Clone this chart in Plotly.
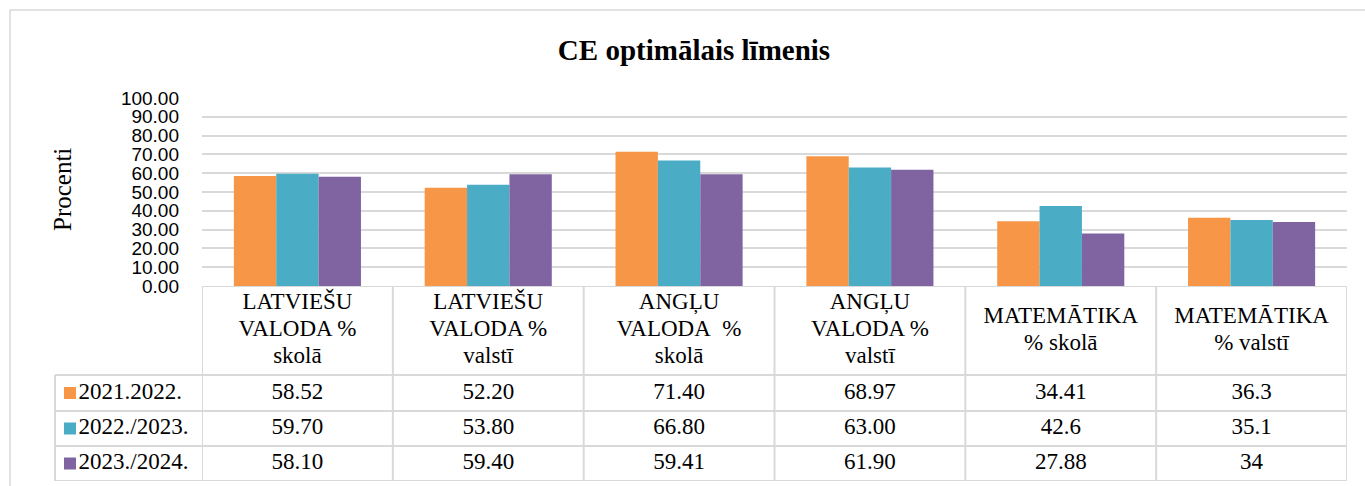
import plotly.graph_objects as go

# ---------------- data ----------------
categories = [
    "LATVIEŠU<br>VALODA %<br>skolā",
    "LATVIEŠU<br>VALODA %<br>valstī",
    "ANGĻU<br>VALODA\u00a0 %<br>skolā",
    "ANGĻU<br>VALODA %<br>valstī",
    "MATEMĀTIKA<br>% skolā",
    "MATEMĀTIKA<br>% valstī",
]
series_names = ["2021.2022.", "2022./2023.", "2023./2024."]
values_2021_2022 = [58.52, 52.20, 71.40, 68.97, 34.41, 36.3]
values_2022_2023 = [59.70, 53.80, 66.80, 63.00, 42.6, 35.1]
values_2023_2024 = [58.10, 59.40, 59.41, 61.90, 27.88, 34]
column_decimals = [2, 2, 2, 2, None, None]   # None = general format
y_tick_values = list(range(0, 101, 10))
title_text = "CE optimālais līmenis"
y_title = "Procenti"

# ---------------- styles / layout ----------------
W, H = 1365, 486
colors = ["#F79646", "#4BACC6", "#8064A2"]
GRID = "#D9D9D9"
SERIF = "Liberation Serif"
SANS = "Liberation Sans"
TABLE_FONT = 23
LINE_STEP = 27


def px_x(q):
    return q / W


def px_y(p):
    return (H - p) / H


plot_left, plot_right = 202, 1347
plot_top, plot_bottom = 98, 286
row_edges = [286, 375, 411, 446, 481]      # table rows in pixel units (y2 axis)
legend_left = 55

all_series = [values_2021_2022, values_2022_2023, values_2023_2024]

fig = go.Figure()

# bars
for name, vals, col in zip(series_names, all_series, colors):
    fig.add_trace(go.Bar(
        x=categories, y=vals, name=name,
        marker=dict(color=col, line=dict(width=0)),
        xaxis="x", yaxis="y", showlegend=False, hoverinfo="y+name",
    ))


def fmt(v, d):
    return f"{v:.{d}f}" if d is not None else f"{v:g}"


# table header (category labels), one line at a time for tight line spacing
header_c = (row_edges[0] + row_edges[1]) / 2
hx, hy, ht = [], [], []
for cat in categories:
    lines = cat.split("<br>")
    n = len(lines)
    for j, ln in enumerate(lines):
        hx.append(cat)
        hy.append(header_c + (j - (n - 1) / 2) * LINE_STEP)
        ht.append(ln)
fig.add_trace(go.Scatter(
    x=hx, y=hy, mode="text", text=ht, textposition="middle center",
    textfont=dict(family=SERIF, size=TABLE_FONT, color="black"),
    xaxis="x", yaxis="y2", showlegend=False, hoverinfo="skip", cliponaxis=False,
))

# table values
for i, vals in enumerate(all_series):
    yc = (row_edges[i + 1] + row_edges[i + 2]) / 2
    fig.add_trace(go.Scatter(
        x=categories, y=[yc] * len(categories), mode="text",
        text=[fmt(v, d) for v, d in zip(vals, column_decimals)],
        textposition="middle center",
        textfont=dict(family=SERIF, size=TABLE_FONT, color="black"),
        xaxis="x", yaxis="y2", showlegend=False, hoverinfo="skip", cliponaxis=False,
    ))
    # legend key + name in the left column
    fig.add_trace(go.Scatter(
        x=[70], y=[yc], mode="markers+text",
        marker=dict(symbol="square", size=12, color=colors[i], line=dict(width=0)),
        text=[series_names[i]], textposition="middle right",
        textfont=dict(family=SERIF, size=TABLE_FONT, color="black"),
        xaxis="x2", yaxis="y2", showlegend=False, hoverinfo="skip", cliponaxis=False,
    ))

shapes = []
# outer chart border
shapes.append(dict(type="rect", xref="paper", yref="paper",
                   x0=px_x(10), x1=px_x(1380), y0=px_y(500), y1=px_y(10),
                   line=dict(color=GRID, width=1.5), fillcolor="rgba(0,0,0,0)", layer="below"))
# table horizontal lines
for k, e in enumerate(row_edges):
    x0 = px_x(plot_left) if k == 0 else px_x(legend_left)
    shapes.append(dict(type="line", xref="paper", yref="y2",
                       x0=x0, x1=px_x(plot_right), y0=e, y1=e,
                       line=dict(color=GRID, width=2)))
# table vertical lines at category boundaries
for k in range(len(categories) + 1):
    shapes.append(dict(type="line", xref="x", yref="y2",
                       x0=k - 0.5, x1=k - 0.5, y0=row_edges[0], y1=row_edges[-1],
                       line=dict(color=GRID, width=2)))
# left edge of legend column
shapes.append(dict(type="line", xref="paper", yref="y2",
                   x0=px_x(legend_left), x1=px_x(legend_left),
                   y0=row_edges[1], y1=row_edges[-1],
                   line=dict(color=GRID, width=2)))

fig.update_layout(
    width=W, height=H, autosize=False,
    margin=dict(l=0, r=0, t=0, b=0, pad=0, autoexpand=False),
    paper_bgcolor="white", plot_bgcolor="white",
    barmode="group", bargap=0.334, bargroupgap=0,
    title=dict(text=f"<b>{title_text}</b>", x=px_x(694), y=px_y(50),
               xanchor="center", yanchor="middle", automargin=False,
               font=dict(family=SERIF, size=29, color="black")),
    xaxis=dict(domain=[px_x(plot_left), px_x(plot_right)], range=[-0.5, len(categories) - 0.5],
               showticklabels=False, showgrid=False, zeroline=False, showline=False,
               anchor="y", fixedrange=True, automargin=False),
    yaxis=dict(domain=[px_y(plot_bottom), px_y(plot_top)], range=[0, 100],
               tickvals=y_tick_values, tickformat=".2f",
               tickfont=dict(family=SANS, size=19, color="black"),
               ticklabelstandoff=22, automargin=False,
               showgrid=True, gridcolor=GRID, gridwidth=1.5,
               zeroline=False, showline=False, ticks="", anchor="x", fixedrange=True),
    yaxis2=dict(domain=[px_y(row_edges[-1]), px_y(row_edges[0])],
                range=[row_edges[-1], row_edges[0]], visible=False,
                anchor="x", fixedrange=True, automargin=False),
    xaxis2=dict(domain=[0, px_x(plot_left)], range=[0, plot_left], visible=False,
                anchor="y2", fixedrange=True, automargin=False),
    shapes=shapes,
    annotations=[dict(text=y_title, xref="paper", yref="paper",
                      x=px_x(62), y=px_y(190), textangle=-90, showarrow=False,
                      xanchor="center", yanchor="middle",
                      font=dict(family=SERIF, size=25, color="black"))],
)

fig.write_html(
    "out.html",
    config={"displayModeBar": False},
    post_script="document.body.style.margin='0';document.body.style.overflow='hidden';",
)
